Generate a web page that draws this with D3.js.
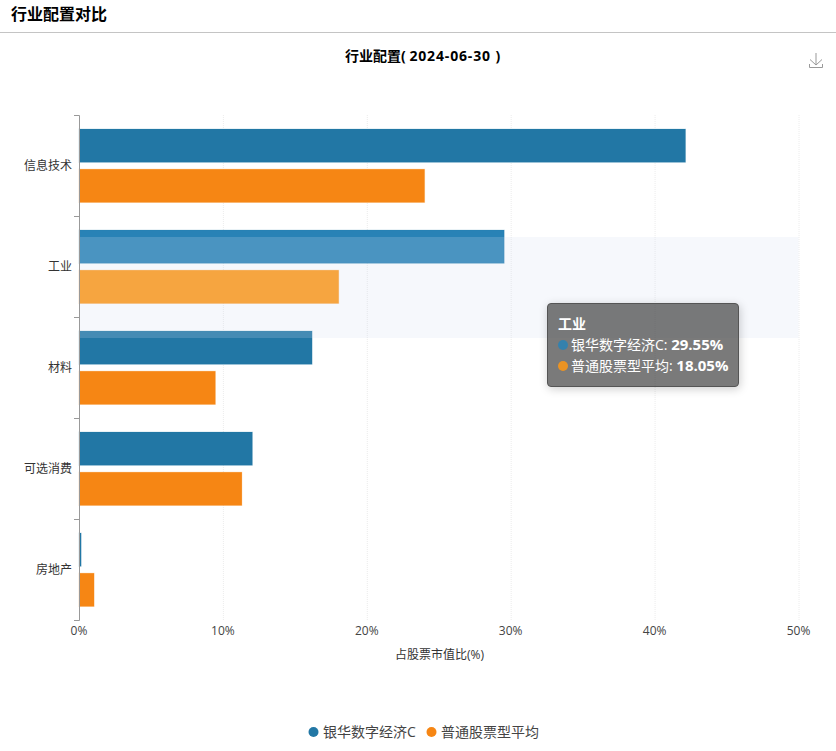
<!DOCTYPE html>
<html>
<head>
<meta charset="utf-8">
<script src="https://cdn.jsdelivr.net/npm/d3@7"></script>
<style>
  html, body { margin: 0; padding: 0; background: #fff; overflow: hidden; }
  body { font-family: "Open Sans", "Noto Sans CJK SC", sans-serif; }
  #chart { position: relative; width: 836px; height: 751px; }
  #tooltip {
    position: absolute; left: 547px; top: 303px; width: 192px; height: 84px; box-sizing: border-box;
    background: rgba(50, 50, 50, 0.65); border: 1px solid #555; border-radius: 4px;
    box-shadow: 1px 2px 10px rgba(0, 0, 0, 0.2);
    color: #fff; font-size: 14px; line-height: 21px; padding: 9px 10px; white-space: nowrap;
  }
  #tooltip .dot { display: inline-block; width: 10px; height: 10px; border-radius: 50%; margin-right: 3px; }
  #tooltip b { font-weight: 700; font-size: 15px; }
</style>
</head>
<body>
<div id="chart"></div>
<script>
const categories = ['信息技术', '工业', '材料', '可选消费', '房地产'];
const seriesNames = ['银华数字经济C', '普通股票型平均'];
const fundValues = [42.15, 29.55, 16.2, 12.05, 0.15];
const averageValues = [24.02, 18.05, 9.48, 11.32, 1.05];
const xTicks = [0, 10, 20, 30, 40, 50];
const colors = ['#2277a5', '#f68614'];
const hoverColors = ['#2882b6', '#ff9814'];
const activeCategory = '工业';

const width = 836;
const height = 751;
const margin = { top: 115, right: 37.5, bottom: 131, left: 79 };

const chart = d3.select('#chart');
const svg = chart.append('svg')
  .attr('width', width)
  .attr('height', height)
  .style('display', 'block');

const xScale = d3.scaleLinear().domain([0, 50]).range([margin.left, width - margin.right]);
const yScale = d3.scaleBand().domain(categories).range([margin.top, height - margin.bottom]);
const inner = d3.scaleBand().domain(seriesNames).range([14, 87.5]).paddingInner(0.17);

// page header
svg.append('text')
  .attr('x', 11).attr('y', 19.5)
  .attr('font-size', 16).attr('font-weight', 700).attr('fill', '#000')
  .text('行业配置对比');
svg.append('line')
  .attr('x1', 0).attr('x2', width).attr('y1', 32.5).attr('y2', 32.5)
  .attr('stroke', '#c4c4c4');

const chartTitle = svg.append('text')
  .attr('x', 345).attr('y', 61)
  .attr('font-size', 14).attr('font-weight', 700).attr('fill', '#000');
chartTitle.append('tspan').text('行业配置( ');
chartTitle.append('tspan').attr('letter-spacing', 0.85).text('2024-06-30 )');

// download icon
svg.append('path')
  .attr('d', 'M816 53V65M810 59.5L816 65L822 59.5M809.5 64V67.5H822.5V64')
  .attr('fill', 'none')
  .attr('stroke', '#999')
  .attr('stroke-width', 1);

// gridlines
svg.append('g')
  .selectAll('line')
  .data(xTicks.slice(1))
  .enter()
  .append('line')
  .attr('x1', (d) => xScale(d) + 0.5)
  .attr('x2', (d) => xScale(d) + 0.5)
  .attr('y1', margin.top)
  .attr('y2', height - margin.bottom)
  .attr('stroke', '#ececec')
  .attr('stroke-dasharray', '1,1');

// bars
const rows = categories.map((c, i) => ({ category: c, values: [fundValues[i], averageValues[i]] }));
const groups = svg.append('g')
  .selectAll('g')
  .data(rows)
  .enter()
  .append('g')
  .attr('transform', (d) => `translate(0,${yScale(d.category)})`);

groups.selectAll('rect')
  .data((d) => d.values.map((v, i) => ({ value: v, index: i, category: d.category })))
  .enter()
  .append('rect')
  .attr('x', xScale(0))
  .attr('y', (d) => inner(seriesNames[d.index]))
  .attr('width', (d) => xScale(d.value) - xScale(0))
  .attr('height', inner.bandwidth())
  .attr('fill', (d) => (d.category === activeCategory ? hoverColors[d.index] : colors[d.index]))
  .attr('stroke', (d) => colors[d.index])
  .attr('stroke-opacity', 0.2);

// axis pointer shadow, caught mid animation so it sits lower than its band
svg.append('rect')
  .attr('x', xScale(0))
  .attr('y', yScale(activeCategory) + 21)
  .attr('width', xScale(50) - xScale(0))
  .attr('height', yScale.bandwidth())
  .attr('fill', 'rgb(212,220,240)')
  .attr('fill-opacity', 0.2);

const yAxis = d3.axisLeft(yScale).tickSize(0).tickPadding(7);
const yG = svg.append('g')
  .attr('transform', `translate(${margin.left},0)`)
  .call(yAxis);
yG.select('.domain').attr('stroke', '#999').attr('d', `M-5,${margin.top + 0.5}H0.5V${height - margin.bottom + 0.5}H-5`);
yG.selectAll('text').attr('font-size', 12).attr('fill', '#333').attr('font-family', '"Noto Sans CJK SC"').attr('dy', '0.38em');

// category boundary ticks
yG.append('g')
  .selectAll('line')
  .data(categories.slice(1))
  .enter()
  .append('line')
  .attr('x1', -5).attr('x2', 0)
  .attr('y1', (d) => yScale(d) + 0.5)
  .attr('y2', (d) => yScale(d) + 0.5)
  .attr('stroke', '#999');

const xAxis = d3.axisBottom(xScale)
  .tickValues(xTicks)
  .tickFormat((d) => d + '%')
  .tickSize(0)
  .tickPadding(6);
const xG = svg.append('g')
  .attr('transform', `translate(-0.5,${height - margin.bottom})`)
  .call(xAxis);
xG.select('.domain').remove();
xG.selectAll('text').attr('font-size', 12).attr('fill', '#444').attr('font-family', '"Open Sans"');

svg.append('text')
  .attr('x', 439.5).attr('y', 659)
  .attr('text-anchor', 'middle')
  .attr('font-size', 12).attr('fill', '#333')
  .text('占股票市值比(%)');

// legend
const legendX = [313.5, 431.5];
const legend = svg.append('g')
  .selectAll('g')
  .data(seriesNames)
  .enter()
  .append('g')
  .attr('transform', (d, i) => `translate(${legendX[i]},732)`);
legend.append('circle')
  .attr('r', 5)
  .attr('fill', (d, i) => colors[i]);
legend.append('text')
  .attr('x', 9.5).attr('y', 5)
  .attr('font-size', 14).attr('fill', '#444')
  .text((d) => d);

// tooltip
const activeIndex = categories.indexOf(activeCategory);
const tooltip = chart.append('div').attr('id', 'tooltip');
tooltip.append('div').style('font-weight', 700).text(activeCategory);
[fundValues, averageValues].forEach((values, i) => {
  const row = tooltip.append('div');
  row.append('span').attr('class', 'dot').style('background', hoverColors[i]).style('opacity', 0.85);
  row.append('span').text(seriesNames[i] + ': ');
  row.append('b').text(values[activeIndex].toFixed(2) + '%');
});
</script>
</body>
</html>
